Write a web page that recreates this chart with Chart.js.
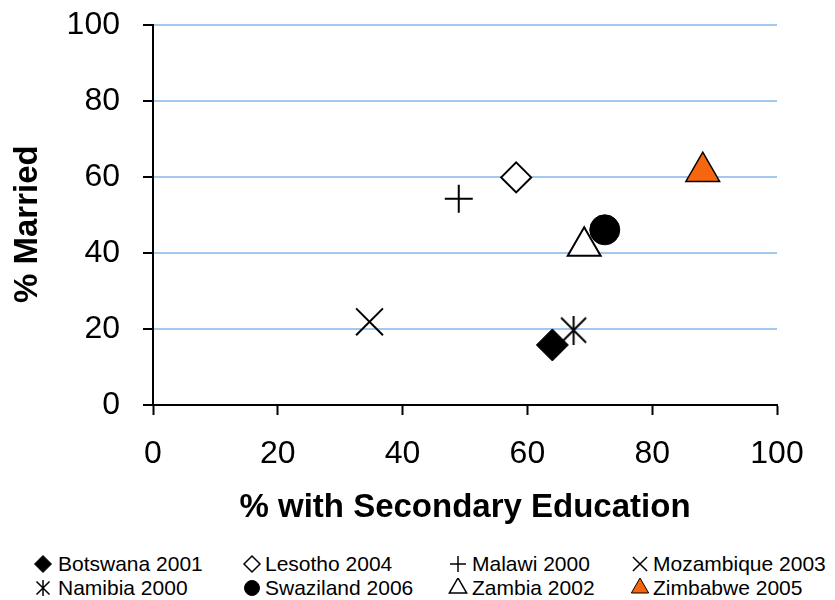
<!DOCTYPE html>
<html>
<head>
<meta charset="utf-8">
<script src="https://cdn.jsdelivr.net/npm/chart.js@4/dist/chart.umd.min.js"></script>
<style>
  body { margin: 0; background: #fff; }
  #wrap { position: relative; width: 835px; height: 600px; }
  #legend { position: absolute; left: 0; top: 552px; width: 835px; font-family: 'Liberation Sans', Arial, sans-serif; font-size: 21px; color: #000; }
  .item { position: absolute; height: 24px; line-height: 24px; white-space: nowrap; }
  .item canvas { position: absolute; top: 2px; }
</style>
</head>
<body>
<div id="wrap">
  <canvas id="myChart" width="835" height="540"></canvas>
  <div id="legend"></div>
</div>
<script>
// survey data
const countries = ['Botswana 2001', 'Lesotho 2004', 'Malawi 2000', 'Mozambique 2003',
    'Namibia 2000', 'Swaziland 2006', 'Zambia 2002', 'Zimbabwe 2005'];
const secondaryEdu = [64.0, 58.2, 49.0, 34.7, 67.4, 72.4, 69.1, 88.1];
const married = [15.8, 59.9, 54.3, 21.9, 19.7, 46.1, 41.8, 61.4];
const tickValues = [0, 20, 40, 60, 80, 100];

const FONT = "'Liberation Sans', Arial, sans-serif";
const ORANGE = '#F5660F';

// asterisk marker (vertical bar + x), chart.js has no such style
function asterisk(size, lw) {
    let c = document.createElement('canvas');
    c.width = size; c.height = size;
    let g = c.getContext('2d');
    let m = lw;
    g.strokeStyle = '#000';
    g.lineWidth = lw;
    g.beginPath();
    g.moveTo(m, m); g.lineTo(size - m, size - m);
    g.moveTo(size - m, m); g.lineTo(m, size - m);
    g.moveTo(size / 2, 0); g.lineTo(size / 2, size);
    g.stroke();
    return c;
}

const markers = [
    {style: 'rectRot', r: 16, fill: '#000', bw: 1, lr: 8.5},
    {style: 'rectRot', r: 15, fill: '#fff', bw: 2, lr: 8},
    {style: 'cross', r: 14, fill: '#000', bw: 2, lr: 8},
    {style: 'crossRot', r: 19, fill: '#000', bw: 2, lr: 10},
    {style: asterisk(29, 2), r: 15, fill: '#000', bw: 2, legendStyle: asterisk(16, 1.5), lr: 8},
    {style: 'circle', r: 15, fill: '#000', bw: 1, lr: 7.5},
    {style: 'triangle', r: 19, fill: '#fff', bw: 2, lr: 10},
    {style: 'triangle', r: 19.5, fill: ORANGE, bw: 1.5, lr: 10}
];

let datasets = countries.map(function(name, i) {
    let m = markers[i];
    return {
        label: name,
        data: [{x: secondaryEdu[i], y: married[i]}],
        pointStyle: m.style,
        pointRadius: m.r,
        pointHoverRadius: m.r,
        backgroundColor: m.fill,
        borderColor: '#000',
        borderWidth: m.bw,
        showLine: false
    };
});

new Chart(document.getElementById('myChart'), {
    type: 'scatter',
    data: { datasets: datasets },
    options: {
        responsive: false,
        animation: false,
        layout: { padding: { left: 0, right: 58, top: 25, bottom: 0 } },
        plugins: { legend: { display: false }, tooltip: { enabled: false } },
        scales: {
            x: {
                min: 0, max: 100,
                afterBuildTicks: function(s) { s.ticks = tickValues.map(v => ({value: v})); },
                afterFit: function(s) { s.height = 135; },
                ticks: { color: '#000', padding: 20, font: { family: FONT, size: 32 } },
                grid: { drawOnChartArea: false, tickLength: 10, tickColor: '#000', tickWidth: 2 },
                border: { color: '#000', width: 2 },
                title: { display: true, text: '% with Secondary Education', color: '#000',
                    padding: { top: 12, bottom: 12 }, font: { family: FONT, size: 33, weight: 'bold' } }
            },
            y: {
                min: 0, max: 100,
                afterBuildTicks: function(s) { s.ticks = tickValues.map(v => ({value: v})); },
                afterFit: function(s) { s.width = 153; s.paddingTop = 0; s.paddingBottom = 0; },
                ticks: { color: '#000', padding: 23, font: { family: FONT, size: 32 } },
                grid: { color: '#A3C8EE', lineWidth: 2, tickLength: 10, tickColor: '#000', tickWidth: 2 },
                border: { color: '#000', width: 2 },
                // trailing spaces nudge the rotated title a bit lower, as in the original
                title: { display: true, text: '% Married  ', color: '#000',
                    padding: { top: 8, bottom: 8 }, font: { family: FONT, size: 33, weight: 'bold' } }
            }
        }
    }
});

// legend in 4 columns, 2 rows like the original
const colMarkerX = [43, 252, 458, 640];
const colTextX = [58, 265, 472, 653];
let legend = document.getElementById('legend');
countries.forEach(function(name, i) {
    let m = markers[i];
    let col = i % 4, row = Math.floor(i / 4);
    let item = document.createElement('div');
    item.className = 'item';
    item.style.left = (colMarkerX[col] - 10) + 'px';
    item.style.top = (row * 24) + 'px';
    let c = document.createElement('canvas');
    c.width = 20; c.height = 20;
    let g = c.getContext('2d');
    g.fillStyle = m.fill;
    g.strokeStyle = '#000';
    g.lineWidth = m.bw > 1.5 ? 1.5 : 1;
    Chart.helpers.drawPoint(g, {pointStyle: m.legendStyle || m.style, radius: m.lr, borderWidth: g.lineWidth}, 10, 10);
    item.appendChild(c);
    let t = document.createElement('span');
    t.textContent = name;
    t.style.position = 'absolute';
    t.style.left = (colTextX[col] - colMarkerX[col] + 10) + 'px';
    item.appendChild(t);
    legend.appendChild(item);
});
</script>
</body>
</html>
